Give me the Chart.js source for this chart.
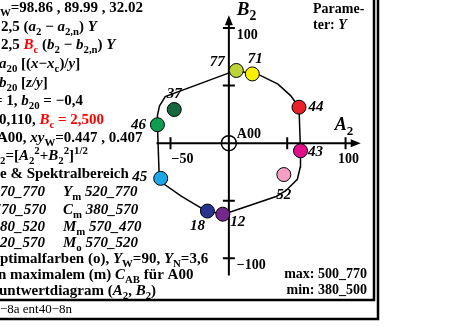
<!DOCTYPE html>
<html>
<head>
<meta charset="utf-8">
<script src="https://cdn.jsdelivr.net/npm/chart.js@4"></script>
<style>
  html, body { margin: 0; padding: 0; background: #fff; }
  canvas { display: block; }
</style>
</head>
<body>
<canvas id="grafico" width="450" height="331"></canvas>
<script>
// farbige Punkte (A2, B2) und ihre Y-Werte
const pontoA = [6.4, 20.1, 60.1, 61.4, 47.1, -5.2, -18.4, -58.4, -61.2, -46.8];
const pontoB = [63.1, 60.1, 31.2, -6.6, -27.3, -61.7, -59.0, -30.6, 16.0, 29.2];
const rotulos = ["77", "71", "44", "43", "52", "12", "18", "45", "46", "37"];
const cores = ["#bcd435", "#f8f000", "#e8202a", "#e0108c", "#f4a0c4",
               "#74288c", "#28338e", "#1ea6e6", "#0e9c50", "#17683f"];
// onde fica o rótulo em relação ao ponto (px)
const deslocRotulo = [[-19, -8], [3, -15], [17, 0], [15, 1], [0, 21],
                      [15, 8], [-10, 15], [-21, -1], [-19, 0], [0, -15]];

// Rand der Optimalfarben
const curvaA = [6.4, 0.8, -54.5, -59.5, -61.2, -61.2, -59.8, -58.4, -55.6, -40.5, -24.0,
                -18.4, -5.2, 0.0, 40.5, 48.8, 58.7, 61.2, 61.4, 60.1, 52.9, 42.1, 25.6, 20.1, 6.4];
const curvaB = [63.1, 61.2, 40.5, 32.2, 24.0, 16.0, -25.6, -30.6, -35.5, -46.3, -56.2,
                -59.0, -61.7, -60.3, -46.3, -41.3, -31.4, -20.7, -6.6, 31.2, 41.3, 51.2, 59.5, 60.1, 63.1];

const ticksA = [-50, 50, 100];
const ticksB = [-100, -50, 50, 100];

const SERIF = '"Liberation Serif", "Times New Roman", serif';

// texto com índices: [texto, estilo] onde estilo tem i (itálico), s (sub), p (sup), r (vermelho), n (normal)
function textoRico(ctx, x, y, partes, tam) {
    let cx = x;
    partes.forEach(p => {
        const t = p[0];
        const est = p[1] || "";
        let size = tam;
        let dy = 0;
        if (est.includes("s")) { size = tam * 0.72; dy = tam * 0.28; }
        if (est.includes("p")) { size = tam * 0.72; dy = -tam * 0.4; }
        const peso = est.includes("n") ? "normal" : "bold";
        const ital = est.includes("i") ? "italic " : "";
        ctx.font = `${ital}${peso} ${size}px ${SERIF}`;
        ctx.fillStyle = est.includes("r") ? "#ff0000" : "#000";
        ctx.fillText(t, cx, y + dy);
        cx += ctx.measureText(t).width;
    });
}

const linhasEsq = [
    [0, 12, [["W", "s"], ["=98.86 , 89.99 , 32.02"]]],
    [1, 31, [["2,5 ("], ["a", "i"], ["2", "s"], [" \u2212 "], ["a", "i"], ["2,n", "s"], [") "], ["Y", "i"]]],
    [1, 49, [["2,5 "], ["B", "ir"], ["c", "sr"], [" ("], ["b", "i"], ["2", "s"], [" \u2212 "], ["b", "i"], ["2,n", "s"], [") "], ["Y", "i"]]],
    [-1, 68, [["a", "i"], ["20", "s"], [" [("], ["x", "i"], ["\u2212"], ["x", "i"], ["c", "s"], [")/"], ["y", "i"], ["]"]]],
    [-1, 87, [["b", "i"], ["20", "s"], [" ["], ["z/y", "i"], ["]"]]],
    [-6, 105, [["= 1, "], ["b", "i"], ["20", "s"], [" = \u22120,4"]]],
    [-1, 124, [["0,110, "], ["B", "ir"], ["c", "sr"], [" = 2,500", "r"]]],
    [-3, 142, [["A00, "], ["xy", "i"], ["W", "s"], ["=0.447 , 0.407"]]],
    [0, 160, [["2", "s"], ["=["], ["A", "i"], ["2", "s"], ["2", "p"], ["+"], ["B", "i"], ["2", "s"], ["2", "p"], ["]"], ["1/2", "p"]]],
    [0, 178, [["e & Spektralbereich"]]],
    [0, 196, [["70_770", "i"]]],
    [63, 196, [["Y", "i"], ["m", "s"], [" 520_770", "i"]]],
    [-3, 214, [["'70_570", "i"]]],
    [63, 214, [["C", "i"], ["m", "s"], [" 380_570", "i"]]],
    [0, 231, [["80_520", "i"]]],
    [63, 231, [["M", "i"], ["m", "s"], [" 570_470", "i"]]],
    [0, 247, [["20_570", "i"]]],
    [63, 247, [["M", "i"], ["o", "s"], [" 570_520", "i"]]],
    [0, 263, [["ptimalfarben (o), "], ["Y", "i"], ["W", "s"], ["=90, "], ["Y", "i"], ["N", "s"], ["=3,6"]]],
    [-2, 279, [["n maximalem (m) "], ["C", "i"], ["AB", "s"], [" f\u00fcr A00"]]],
    [-1, 295, [["untwertdiagram ("], ["A", "i"], ["2", "s"], [", "], ["B", "i"], ["2", "s"], [")"]]]
];

const desenho = {
    id: "desenho",
    beforeDatasetsDraw(chart) {
        const ctx = chart.ctx;
        const sx = chart.scales.x, sy = chart.scales.y;
        const x0 = sx.getPixelForValue(0), y0 = sy.getPixelForValue(0);
        ctx.save();
        ctx.strokeStyle = "#000";
        ctx.fillStyle = "#000";
        ctx.lineWidth = 2;
        // eixos
        ctx.beginPath();
        ctx.moveTo(sx.getPixelForValue(-62), y0);
        ctx.lineTo(sx.getPixelForValue(110), y0);
        ctx.moveTo(x0, sy.getPixelForValue(-115));
        ctx.lineTo(x0, sy.getPixelForValue(108));
        ctx.stroke();
        // setas
        const ax = sx.getPixelForValue(113), ay = sy.getPixelForValue(111);
        ctx.beginPath();
        ctx.moveTo(ax, y0); ctx.lineTo(ax - 10, y0 - 4); ctx.lineTo(ax - 10, y0 + 4); ctx.closePath();
        ctx.moveTo(x0, ay); ctx.lineTo(x0 - 4, ay + 10); ctx.lineTo(x0 + 4, ay + 10); ctx.closePath();
        ctx.fill();
        // marcas
        ctx.beginPath();
        ticksA.forEach(v => {
            const p = sx.getPixelForValue(v);
            ctx.moveTo(p, y0 - 6); ctx.lineTo(p, y0 + 6);
        });
        ticksB.forEach(v => {
            const p = sy.getPixelForValue(v);
            ctx.moveTo(x0 - 6, p); ctx.lineTo(x0 + 6, p);
        });
        ctx.stroke();
        // A00
        ctx.lineWidth = 1.5;
        ctx.beginPath();
        ctx.arc(x0, y0, 7.5, 0, Math.PI * 2);
        ctx.stroke();
        ctx.restore();
    },
    afterDatasetsDraw(chart) {
        const ctx = chart.ctx;
        const sx = chart.scales.x, sy = chart.scales.y;
        const x0 = sx.getPixelForValue(0), y0 = sy.getPixelForValue(0);
        ctx.save();
        ctx.textBaseline = "alphabetic";

        // rótulos dos pontos
        ctx.font = `italic bold 15px ${SERIF}`;
        ctx.fillStyle = "#000";
        ctx.textAlign = "center";
        ctx.textBaseline = "middle";
        rotulos.forEach((r, i) => {
            const px = sx.getPixelForValue(pontoA[i]) + deslocRotulo[i][0];
            const py = sy.getPixelForValue(pontoB[i]) + deslocRotulo[i][1];
            ctx.fillText(r, px, py);
        });
        ctx.textAlign = "left";
        ctx.textBaseline = "alphabetic";

        // rótulos dos eixos
        textoRico(ctx, x0 + 8, 15, [["B", "i"], ["2", "s"]], 19);
        textoRico(ctx, x0 + 106, y0 - 13, [["A", "i"], ["2", "s"]], 18);
        ctx.font = `bold 14px ${SERIF}`;
        ctx.fillText("100", x0 + 8, sy.getPixelForValue(100) + 11);
        ctx.fillText("A00", x0 + 8, y0 - 5);
        ctx.fillText("\u221250", sx.getPixelForValue(-50) + 1, y0 + 20);
        ctx.fillText("\u2212100", x0 + 8, sy.getPixelForValue(-100) + 11);
        ctx.textAlign = "center";
        ctx.fillText("100", sx.getPixelForValue(100) + 3, y0 + 20);
        ctx.textAlign = "left";

        // texto à esquerda
        linhasEsq.forEach(l => textoRico(ctx, l[0], l[1], l[2], 15));

        // texto à direita
        textoRico(ctx, 313, 13, [["Parame-"]], 14);
        textoRico(ctx, 313, 29, [["ter: "], ["Y", "i"]], 14);
        ctx.font = `bold 14px ${SERIF}`;
        ctx.textAlign = "right";
        ctx.fillText("max: 500_770", 367, 278);
        ctx.fillText("min: 380_500", 367, 294);
        ctx.textAlign = "left";

        // molduras
        ctx.strokeStyle = "#000";
        ctx.lineWidth = 2.5;
        ctx.beginPath();
        ctx.moveTo(374, 0); ctx.lineTo(374, 300); ctx.lineTo(0, 300);
        ctx.moveTo(378, 0); ctx.lineTo(378, 319); ctx.lineTo(0, 319);
        ctx.stroke();
        ctx.font = `normal 13px ${SERIF}`;
        ctx.fillStyle = "#000";
        ctx.fillText("\u22128a ent40\u22128n", 0, 313);
        ctx.restore();
    }
};

const ctx = document.getElementById("grafico");
new Chart(ctx, {
    type: "scatter",
    data: {
        datasets: [
            {
                label: "Punkte",
                data: pontoA.map((a, i) => ({ x: a, y: pontoB[i] })),
                pointRadius: 7,
                pointBackgroundColor: cores,
                pointBorderColor: "#000",
                pointBorderWidth: 1,
                order: 0
            },
            {
                label: "Grenze",
                data: curvaA.map((a, i) => ({ x: a, y: curvaB[i] })),
                showLine: true,
                pointRadius: 0,
                borderColor: "#000",
                borderWidth: 1.5,
                tension: 0,
                order: 1
            }
        ]
    },
    options: {
        responsive: false,
        animation: false,
        devicePixelRatio: 1,
        layout: { padding: 0 },
        plugins: { legend: { display: false }, tooltip: { enabled: false } },
        scales: {
            x: { type: "linear", display: false, min: -229 / 1.21, max: 221 / 1.21 },
            y: { type: "linear", display: false, min: -189 / 1.21, max: 142 / 1.21 }
        }
    },
    plugins: [desenho]
});
</script>
</body>
</html>
